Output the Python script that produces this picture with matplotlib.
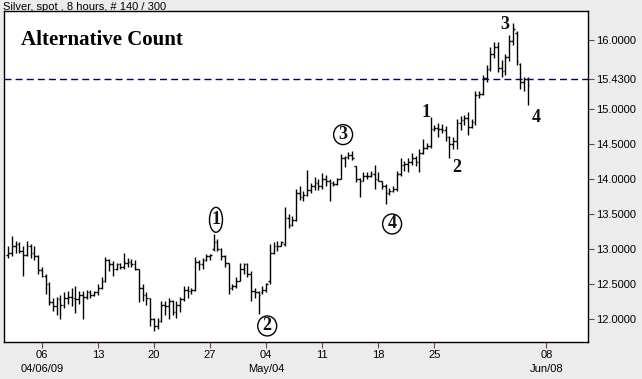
import matplotlib
matplotlib.use("Agg")
import matplotlib.pyplot as plt
from matplotlib.patches import Ellipse
import numpy as np

# 8-hour OHLC bars, silver spot (140 bars, weekends skipped)
opens = [12.92, 12.95, 13.05, 13.08, 12.98, 12.92, 13.05, 12.95, 12.90, 12.70,
         12.62, 12.50, 12.24, 12.18, 12.28, 12.20, 12.30, 12.32, 12.30, 12.28,
         12.35, 12.32, 12.38, 12.35, 12.38, 12.45, 12.55, 12.85, 12.78, 12.72,
         12.78, 12.75, 12.80, 12.82, 12.78, 12.72, 12.45, 12.35, 12.30, 12.00,
         11.90, 11.97, 12.20, 12.18, 12.25, 12.10, 12.20, 12.28, 12.42, 12.40,
         12.42, 12.82, 12.78, 12.85, 12.90, 13.00, 13.10, 13.00, 12.90, 12.80,
         12.45, 12.47, 12.55, 12.72, 12.78, 12.65, 12.40, 12.38, 12.38, 12.42,
         12.55, 12.95, 13.05, 13.05, 13.08, 13.45, 13.35, 13.42, 13.80, 13.75,
         13.78, 13.85, 13.90, 13.95, 13.90, 14.00, 13.98, 13.95, 13.93, 14.00,
         14.30, 14.32, 14.35, 14.19, 14.00, 13.98, 14.05, 14.05, 14.08, 14.00,
         13.98, 13.90, 13.80, 13.83, 13.86, 14.08, 14.20, 14.22, 14.25, 14.30,
         14.25, 14.38, 14.45, 14.47, 14.72, 14.74, 14.72, 14.70, 14.60, 14.50,
         14.55, 14.80, 14.85, 14.88, 14.75, 14.82, 15.20, 15.22, 15.45, 15.58,
         15.80, 15.90, 15.60, 15.55, 15.75, 15.98, 16.10, 15.65, 15.40, 15.43]
highs = [13.05, 13.19, 13.12, 13.10, 13.05, 13.12, 13.08, 13.05, 12.92, 12.75,
         12.65, 12.53, 12.30, 12.32, 12.35, 12.38, 12.40, 12.45, 12.47, 12.40,
         12.40, 12.42, 12.42, 12.40, 12.50, 12.60, 12.89, 12.86, 12.83, 12.80,
         12.80, 12.95, 12.88, 12.86, 12.85, 12.72, 12.50, 12.38, 12.30, 12.02,
         12.02, 12.25, 12.25, 12.30, 12.27, 12.25, 12.32, 12.47, 12.47, 12.45,
         12.89, 12.85, 12.88, 12.93, 12.93, 13.21, 13.15, 13.02, 12.92, 12.80,
         12.50, 12.60, 12.80, 12.80, 12.80, 12.68, 12.45, 12.40, 12.47, 12.52,
         13.07, 13.10, 13.12, 13.12, 13.60, 13.50, 13.47, 13.86, 13.90, 13.83,
         14.14, 13.95, 14.04, 14.00, 14.09, 14.06, 14.00, 13.98, 14.02, 14.36,
         14.33, 14.39, 14.41, 14.19, 14.02, 14.10, 14.10, 14.12, 14.21, 14.10,
         13.98, 13.93, 13.88, 13.90, 14.12, 14.31, 14.26, 14.31, 14.38, 14.33,
         14.43, 14.57, 14.52, 14.89, 14.78, 14.81, 14.79, 14.76, 14.62, 14.60,
         14.86, 14.90, 14.92, 14.97, 14.86, 15.26, 15.26, 15.50, 15.64, 15.89,
         15.97, 15.96, 15.71, 15.79, 16.07, 16.24, 16.12, 15.67, 15.47, 15.47]
lows = [12.87, 12.90, 12.95, 12.95, 12.62, 12.90, 12.88, 12.85, 12.65, 12.60,
        12.36, 12.20, 12.12, 12.05, 12.00, 12.15, 12.22, 12.18, 12.08, 12.22,
        12.00, 12.28, 12.30, 12.33, 12.35, 12.43, 12.53, 12.69, 12.62, 12.70,
        12.72, 12.72, 12.75, 12.74, 12.70, 12.24, 12.25, 12.20, 11.90, 11.83,
        11.85, 11.95, 12.05, 12.00, 12.05, 12.02, 12.10, 12.25, 12.30, 12.36,
        12.40, 12.70, 12.72, 12.83, 12.85, 12.97, 12.98, 12.85, 12.75, 12.36,
        12.42, 12.45, 12.55, 12.65, 12.60, 12.25, 12.30, 12.07, 12.36, 12.39,
        12.50, 12.93, 12.98, 13.04, 13.04, 13.30, 13.33, 13.40, 13.70, 13.69,
        13.76, 13.80, 13.84, 13.84, 13.86, 13.90, 13.69, 13.90, 13.92, 14.00,
        14.17, 14.29, 14.27, 13.96, 13.74, 13.97, 14.00, 14.03, 13.86, 13.97,
        13.86, 13.64, 13.78, 13.82, 13.83, 14.05, 14.12, 14.10, 14.20, 14.19,
        14.10, 14.36, 14.43, 14.45, 14.69, 14.60, 14.66, 14.55, 14.31, 14.44,
        14.43, 14.70, 14.78, 14.64, 14.74, 14.78, 15.17, 15.20, 15.40, 15.55,
        15.74, 15.54, 15.47, 15.50, 15.70, 15.93, 15.64, 15.29, 15.26, 15.07]
closes = [12.95, 13.05, 13.08, 12.98, 12.92, 13.05, 12.95, 12.90, 12.70, 12.62,
          12.50, 12.24, 12.18, 12.28, 12.20, 12.30, 12.32, 12.30, 12.28, 12.35,
          12.32, 12.38, 12.35, 12.38, 12.45, 12.55, 12.85, 12.78, 12.72, 12.78,
          12.75, 12.80, 12.82, 12.78, 12.72, 12.45, 12.35, 12.30, 12.00, 11.90,
          11.97, 12.20, 12.18, 12.25, 12.10, 12.20, 12.28, 12.42, 12.40, 12.42,
          12.82, 12.78, 12.85, 12.90, 12.92, 13.10, 13.00, 12.90, 12.80, 12.45,
          12.47, 12.55, 12.72, 12.78, 12.65, 12.40, 12.38, 12.35, 12.42, 12.50,
          12.95, 13.05, 13.05, 13.10, 13.45, 13.35, 13.42, 13.80, 13.75, 13.78,
          13.85, 13.90, 13.95, 13.90, 14.00, 13.98, 13.95, 13.93, 14.00, 14.30,
          14.32, 14.35, 14.30, 14.00, 13.98, 14.05, 14.05, 14.08, 14.00, 13.98,
          13.90, 13.80, 13.83, 13.86, 14.08, 14.20, 14.22, 14.25, 14.30, 14.25,
          14.38, 14.45, 14.47, 14.72, 14.74, 14.72, 14.70, 14.60, 14.50, 14.55,
          14.80, 14.85, 14.88, 14.75, 14.82, 15.20, 15.22, 15.45, 15.58, 15.80,
          15.90, 15.60, 15.55, 15.75, 15.98, 16.15, 15.70, 15.40, 15.43, 15.35]

# x axis: bar index of each Monday, with labels
tick_bars = [9, 24, 39, 54, 69, 84, 99, 114, 144]
tick_labels = ["06\n04/06/09", "13", "20", "27", "04\nMay/04", "11", "18", "25", "08\nJun/08"]
price_ticks = [12.0, 12.5, 13.0, 13.5, 14.0, 14.5, 15.0, 15.43, 16.0]
last_price = 15.43

# wave labels: (text, bar, price, circled)
waves = [("1", 55.6, 13.42, "oval"), ("2", 69.3, 11.90, "circle"),
         ("3", 89.6, 14.64, "circle"), ("4", 102.7, 13.36, "circle"),
         ("1", 111.8, 14.96, None), ("2", 120.0, 14.17, None),
         ("3", 132.9, 16.21, None), ("4", 141.2, 14.89, None)]

plt.rcParams['font.family'] = ['Liberation Sans', 'DejaVu Sans']
fig = plt.figure(figsize=(6.42, 3.79), dpi=100, facecolor='#ececec')
ax = fig.add_axes([4/642, 1 - 342/379, 584/642, 331/379])
ax.set_facecolor('white')

x = np.arange(len(closes))
w = 0.45
ax.vlines(x, lows, highs, color='black', lw=1.0)
ax.hlines(opens, x - w, x, color='black', lw=1.0)
ax.hlines(closes, x, x + w, color='black', lw=1.0)

ax.axhline(last_price, color='#000066', lw=1.0, linestyle=(0, (5, 3)))

ax.set_xlim(-1.1, 155.1)
ax.set_ylim(11.67, 16.41)

ax.yaxis.tick_right()
ax.set_yticks(price_ticks)
ax.set_yticklabels([f"{v:.4f}" for v in price_ticks], fontsize=8)
ax.set_xticks(tick_bars)
ax.set_xticklabels(tick_labels, fontsize=8, linespacing=1.45)
ax.tick_params(axis='both', color='#993333', length=4, width=0.8, pad=2)
for s in ax.spines.values():
    s.set_color('black')
    s.set_linewidth(1.0)

# wave count annotations
for txt, xb, yp, kind in waves:
    ax.text(xb, yp, txt, fontsize=13, fontweight='bold', family='Liberation Serif',
            ha='center', va='center', color='#111111')
    if kind == "oval":
        ax.add_patch(Ellipse((xb, yp), 13/3.74, 25/70, fill=False, ec='black', lw=1.0))
    elif kind == "circle":
        ax.add_patch(Ellipse((xb, yp), 19/3.74, 20/70, fill=False, ec='black', lw=1.0))

ax.text(0.029, 0.912, "Alternative Count", transform=ax.transAxes, fontsize=15,
        fontweight='bold', family='Liberation Serif', ha='left', va='center')

fig.text(3/642, 1 - 7/379, "Silver, spot , 8 hours, # 140 / 300", fontsize=8,
         ha='left', va='center')

fig.savefig("out.png", dpi=100, facecolor=fig.get_facecolor())
